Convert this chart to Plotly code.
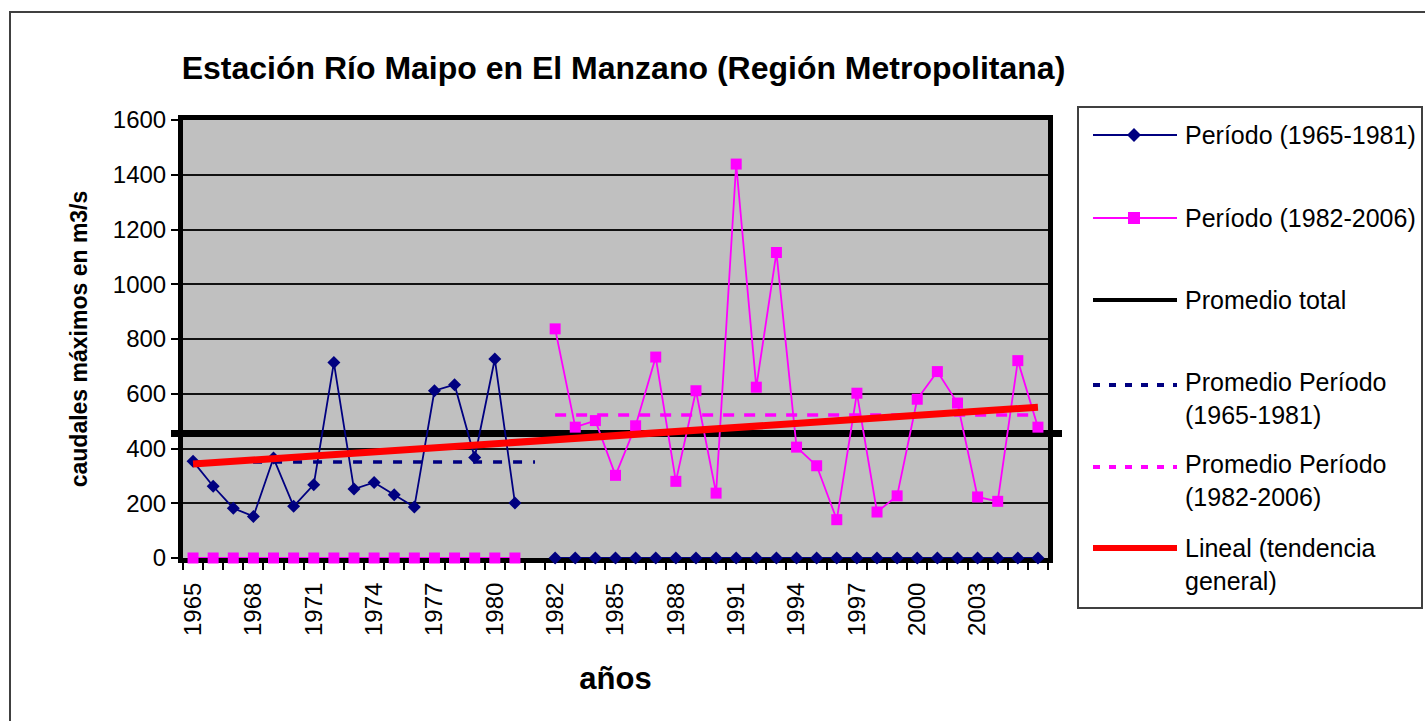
import plotly.graph_objects as go

# ---------------- data ----------------
categories = ["1965", "1966", "1967", "1968", "1969", "1970", "1971", "1972", "1973",
              "1974", "1975", "1976", "1977", "1978", "1979", "1980", "1981", " ",
              "1982", "1983", "1984", "1985", "1986", "1987", "1988", "1989", "1990",
              "1991", "1992", "1993", "1994", "1995", "1996", "1997", "1998", "1999",
              "2000", "2001", "2002", "2003", "2004", "2005", "2006"]

periodo_1965_1981 = [353, 262, 182, 152, 365, 189, 268, 714, 252, 276, 231, 186, 611, 633,
                     367, 727, 201, None,
                     0, 0, 0, 0, 0, 0, 0, 0, 0, 0, 0, 0, 0, 0, 0, 0, 0, 0, 0, 0, 0, 0, 0, 0, 0]

periodo_1982_2006 = [0, 0, 0, 0, 0, 0, 0, 0, 0, 0, 0, 0, 0, 0, 0, 0, 0, None,
                     837, 478, 502, 302, 483, 734, 280, 611, 237, 1439, 624, 1116, 405,
                     337, 140, 602, 168, 227, 580, 681, 566, 223, 207, 721, 478]

promedio_total = 455
promedio_1965_1981 = 351
promedio_1982_2006 = 522
promedio_1_span = ["1965", " "]
promedio_2_span = ["1982", "2006"]

tendencia_x = ["1965", "2006"]
tendencia_y = [343, 551]

tick_labels = ["1965", "1968", "1971", "1974", "1977", "1980", "1982", "1985",
               "1988", "1991", "1994", "1997", "2000", "2003"]
y_ticks = [0, 200, 400, 600, 800, 1000, 1200, 1400, 1600]

legend_labels = ["Período (1965-1981)", "Período (1982-2006)", "Promedio total",
                 "Promedio Período<br>(1965-1981)", "Promedio Período<br>(1982-2006)",
                 "Lineal (tendencia<br>general)"]

# ---------------- styling ----------------
FONT = "Liberation Sans, Arial, sans-serif"
NAVY = "#000080"
MAGENTA = "#FF00FF"
RED = "#FF0000"
W, H = 1425, 721
PL, PR, PT, PB = 183, 1048, 120, 558


def px(x):
    return (x - PL) / (PR - PL)


def py(y):
    return (PB - y) / (PB - PT)


fig = go.Figure()

fig.add_trace(go.Scatter(x=categories, y=periodo_1982_2006, mode="lines+markers",
                         line=dict(color=MAGENTA, width=1.8),
                         marker=dict(symbol="square", size=11, color=MAGENTA),
                         name=legend_labels[1], cliponaxis=False))
fig.add_trace(go.Scatter(x=categories, y=periodo_1965_1981, mode="lines+markers",
                         line=dict(color=NAVY, width=1.8),
                         marker=dict(symbol="diamond", size=10, color=NAVY),
                         name=legend_labels[0], cliponaxis=False))
fig.add_trace(go.Scatter(x=promedio_1_span, y=[promedio_1965_1981] * 2, mode="lines",
                         line=dict(color=NAVY, width=3.5, dash="9px,11px"),
                         name=legend_labels[3]))
fig.add_trace(go.Scatter(x=promedio_2_span, y=[promedio_1982_2006] * 2, mode="lines",
                         line=dict(color=MAGENTA, width=3.5, dash="11px,10px"),
                         name=legend_labels[4]))
fig.add_trace(go.Scatter(x=tendencia_x, y=tendencia_y, mode="lines",
                         line=dict(color=RED, width=7),
                         name=legend_labels[5]))

shapes = []
# Promedio total (extends past the plot frame, as in the original)
shapes.append(dict(type="line", xref="paper", yref="y", x0=px(171), x1=px(1062),
                   y0=promedio_total, y1=promedio_total,
                   line=dict(color="black", width=7), layer="between"))
# outer chart border
shapes.append(dict(type="rect", xref="paper", yref="paper", x0=px(10), x1=px(1450),
                   y0=py(750), y1=py(12), line=dict(color="#404040", width=2),
                   layer="above"))
# legend box
shapes.append(dict(type="rect", xref="paper", yref="paper", x0=px(1078), x1=px(1422),
                   y0=py(608), y1=py(107), line=dict(color="#404040", width=2),
                   fillcolor="rgba(0,0,0,0)", layer="above"))

annotations = []
LX0, LX1, LXC, LTX = 1093, 1177, 1134, 1183
sample_y = [135, 218, 300, 385, 467, 548]
text_y = [135, 218, 300, 398, 480.5, 564]
sample_style = [
    dict(color=NAVY, width=2),
    dict(color=MAGENTA, width=2),
    dict(color="black", width=4),
    dict(color=NAVY, width=4, dash="7px,9px"),
    dict(color=MAGENTA, width=4, dash="7px,9px"),
    dict(color=RED, width=6),
]
for i, lab in enumerate(legend_labels):
    shapes.append(dict(type="line", xref="paper", yref="paper", x0=px(LX0), x1=px(LX1),
                       y0=py(sample_y[i]), y1=py(sample_y[i]), line=sample_style[i],
                       layer="above"))
    annotations.append(dict(text=lab, xref="paper", yref="paper", x=px(LTX), y=py(text_y[i]),
                            xanchor="left", yanchor="middle", align="left", showarrow=False,
                            font=dict(family=FONT, size=25, color="black")))

# legend markers
d = 7
cx, cy = LXC, sample_y[0]
shapes.append(dict(type="path", xref="paper", yref="paper",
                   path=f"M {px(cx-d)} {py(cy)} L {px(cx)} {py(cy-d)} L {px(cx+d)} {py(cy)} L {px(cx)} {py(cy+d)} Z",
                   fillcolor=NAVY, line=dict(color=NAVY, width=0), layer="above"))
s = 6
cx, cy = LXC, sample_y[1]
shapes.append(dict(type="rect", xref="paper", yref="paper", x0=px(cx-s), x1=px(cx+s),
                   y0=py(cy+s), y1=py(cy-s), fillcolor=MAGENTA,
                   line=dict(color=MAGENTA, width=0), layer="above"))

fig.update_layout(
    width=W, height=H, autosize=False,
    margin=dict(l=PL, r=W - PR, t=PT, b=H - PB, autoexpand=False),
    paper_bgcolor="white", plot_bgcolor="#C0C0C0",
    showlegend=False,
    font=dict(family=FONT, color="black"),
    title=dict(text="<b>Estación Río Maipo en El Manzano (Región Metropolitana)</b>",
               font=dict(family=FONT, size=32, color="black"),
               xref="container", yref="container", x=623.5 / W, y=1 - 68 / H,
               xanchor="center", yanchor="middle"),
    xaxis=dict(type="category", categoryorder="array", categoryarray=categories,
               range=[-0.5, len(categories) - 0.5],
               tickmode="array", tickvals=categories,
               ticktext=[c if c in tick_labels else "" for c in categories],
               tickson="boundaries", ticks="outside", ticklen=7, tickwidth=1.5,
               tickcolor="black", tickangle=-90, ticklabelstandoff=10,
               tickfont=dict(family=FONT, size=24, color="black"),
               showline=True, linewidth=5, linecolor="black", mirror=True,
               showgrid=False, zeroline=False, automargin=False, layer="below traces",
               title=dict(text="<b>años</b>", font=dict(family=FONT, size=31, color="black"),
                          standoff=34)),
    yaxis=dict(range=[0, 1600], tickmode="array", tickvals=y_ticks,
               ticks="outside", ticklen=7, tickwidth=2, tickcolor="black",
               tickfont=dict(family=FONT, size=24, color="black"),
               showgrid=True, gridcolor="#111111", gridwidth=1.6,
               showline=True, linewidth=5, linecolor="black", mirror=True,
               zeroline=False, automargin=False, layer="below traces",
               title=dict(text="<b>caudales máximos en m3/s</b>",
                          font=dict(family=FONT, size=23, color="black"), standoff=20)),
    shapes=shapes,
    annotations=annotations,
)

fig.write_html("out.html", config={"displayModeBar": False},
               post_script="document.body.style.margin='0';document.body.style.overflow='hidden';")
